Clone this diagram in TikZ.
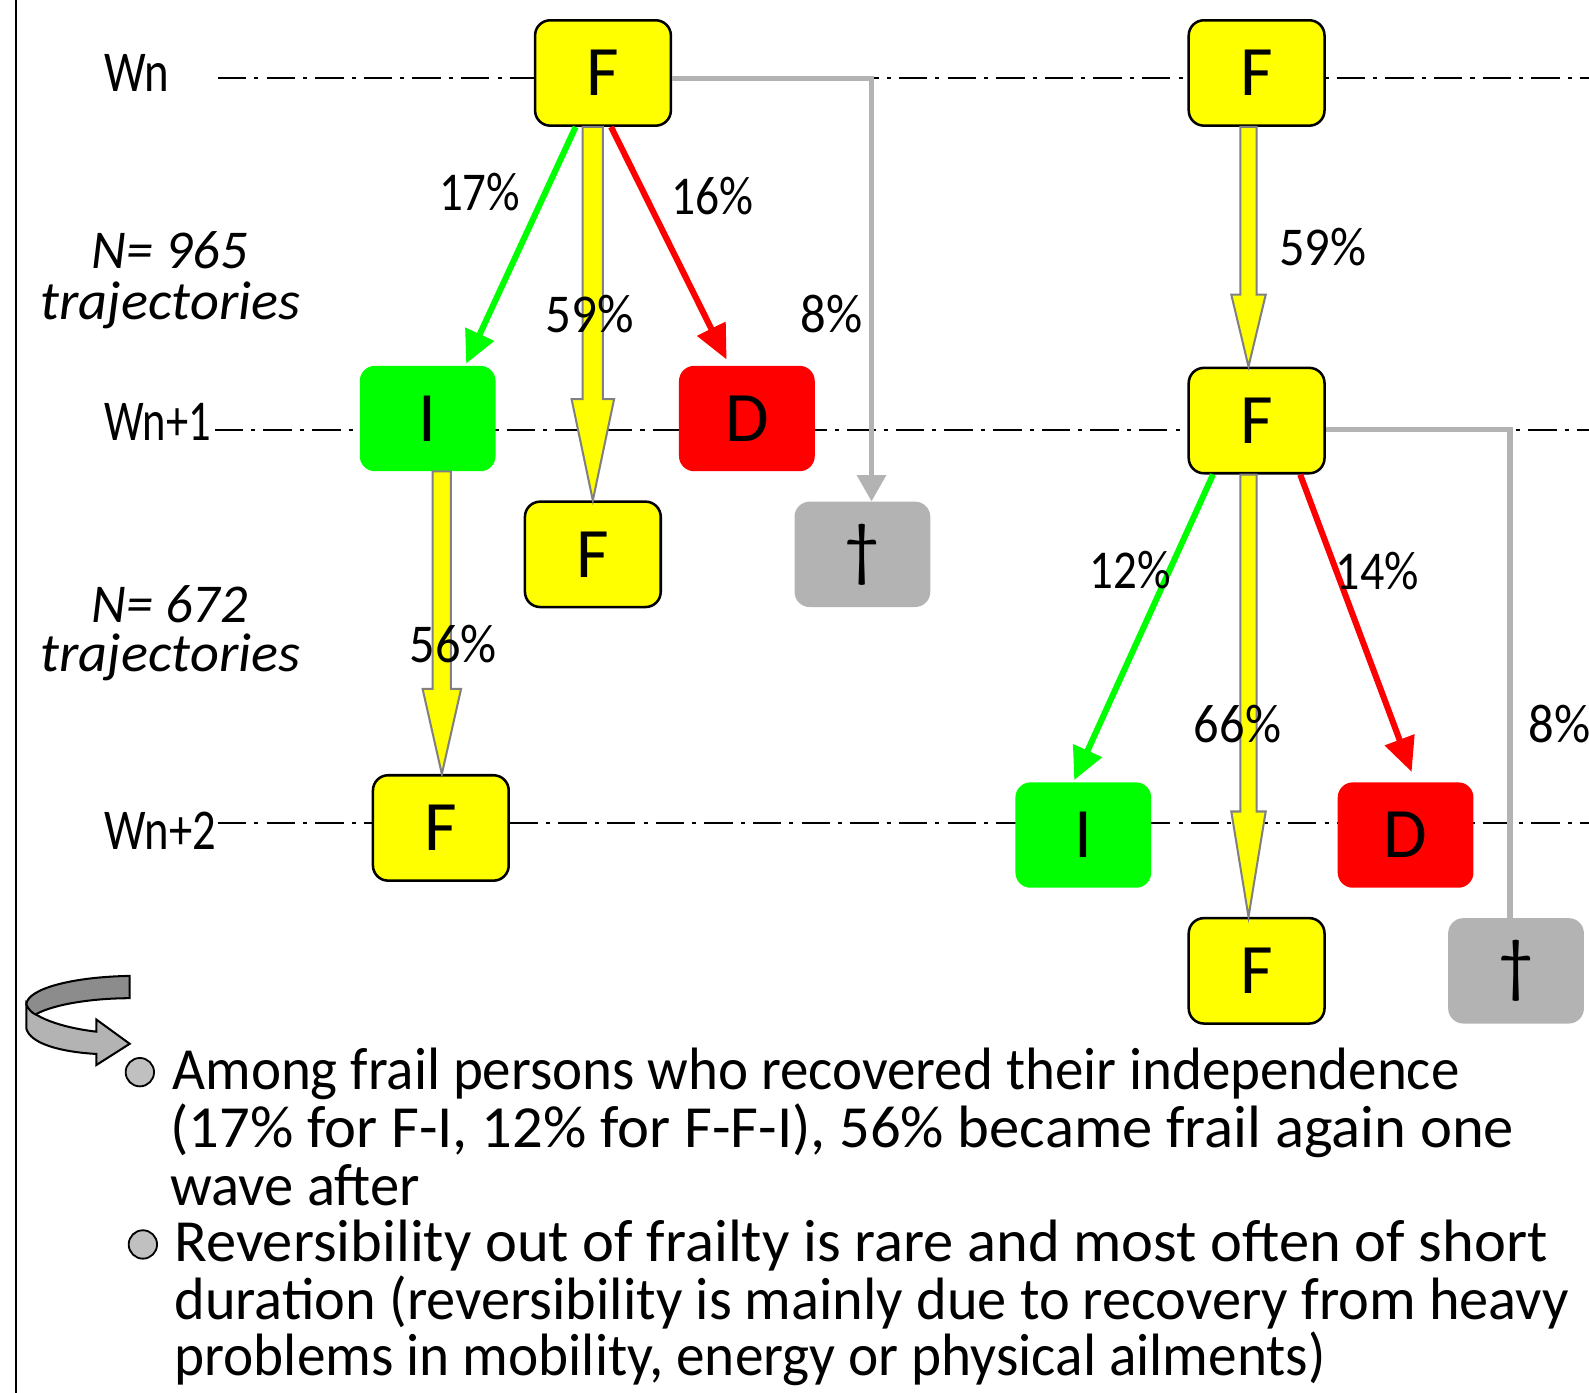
\documentclass[tikz,border=0pt]{standalone}
\usepackage{fontspec}
\usepackage{graphicx}
\setmainfont{Carlito}
\usetikzlibrary{arrows.meta,calc}
\definecolor{fyel}{RGB}{255,255,0}
\definecolor{igrn}{RGB}{0,255,0}
\definecolor{dred}{RGB}{255,0,0}
\definecolor{tgray}{RGB}{179,179,179}
\definecolor{agray}{RGB}{128,128,128}
\definecolor{darkrib}{RGB}{140,140,140}
\definecolor{bulgray}{RGB}{192,192,192}
\newcommand\fw[2]{\resizebox{#1pt}{\height}{#2}}
\newcommand\fatarrow[6]{%
  \filldraw[fat] let \p1=($(#2.north)+(#3,0)$), \p2=(#1.south) in
  (\x1-#4pt,\y2) -- (\x1-#4pt,\y1+#6pt) -- (\x1-#5pt,\y1+#6pt) -- (\x1,\y1)
  -- (\x1+#5pt,\y1+#6pt) -- (\x1+#4pt,\y1+#6pt) -- (\x1+#4pt,\y2) -- cycle;}
\tikzset{
  box/.style={rectangle, rounded corners=15pt, minimum width=134pt, minimum height=104pt,
    inner sep=0pt, font=\fontsize{70}{70}\selectfont},
  fbox/.style={box, fill=fyel, draw=black, line width=2.5pt},
  ibox/.style={box, fill=igrn},
  dbox/.style={box, fill=dred},
  tbox/.style={box, fill=tgray},
  wave/.style={line width=2.3pt, dash pattern=on 28pt off 8pt on 4pt off 8pt},
  fat/.style={fill=fyel, draw=agray, line width=2pt, line join=miter},
  grnarr/.style={draw=igrn, line width=6pt, -{Triangle[length=32pt,width=30pt]}},
  redarr/.style={draw=dred, line width=6pt, -{Triangle[length=34pt,width=30pt]}},
  grayconn/.style={draw=tgray, line width=5pt},
  lbl/.style={anchor=base west, inner sep=0pt, font=\fontsize{54}{54}\selectfont},
  wlbl/.style={anchor=base west, inner sep=0pt, font=\fontsize{57}{57}\selectfont},
  nlbl/.style={anchor=base west, inner sep=0pt, font=\fontsize{54}{54}\selectfont\itshape},
  body/.style={anchor=base west, inner sep=0pt, font=\fontsize{59}{59}\selectfont},
  bullet/.style={circle, fill=bulgray, draw=black, line width=1.8pt, minimum size=28pt, inner sep=0pt},
}
\begin{document}
\begin{tikzpicture}[x=1pt,y=-1pt]
\useasboundingbox (0,0) rectangle (1568,1374);
% left rule
\draw[line width=2.5pt] (16,-5) -- (16,1380);
% wave lines
\draw[wave] (215,77) -- (1575,77);
\draw[wave] (212,424) -- (1575,424);
\draw[wave] (215,812) -- (1575,812);
% nodes
\node[fbox] (F1) at (595,72) {F};
\node[fbox] (F2) at (1240,72) {F};
\node[ibox] (I1) at (422,413) {I};
\node[dbox] (D1) at (737,413) {D};
\node[fbox] (F3) at (585,547) {F};
\node[tbox] (T1) at (851,547) {\textdagger};
\node[fbox] (F4) at (1240,415) {F};
\node[fbox] (F5) at (435,817) {F};
\node[ibox] (I2) at (1069,824) {I};
\node[dbox] (D2) at (1387,824) {D};
\node[fbox] (F6) at (1240,958) {F};
\node[tbox] (T2) at (1496,958) {\textdagger};
% connectors
\draw[grayconn, -{Triangle[length=26pt,width=28pt]}] ($(F1.east)+(0,5)$) -| ($(T1.north)+(9,0)$);
\draw[grayconn] ($(F4.east)+(0,9)$) -| ($(T2.north)+(-6,0)$);
\fatarrow{F1}{F3}{0}{10}{21}{100}
\fatarrow{F2}{F4}{-8}{8}{17}{71}
\fatarrow{I1}{F5}{1}{9}{19}{84}
\fatarrow{F4}{F6}{-8}{8}{17}{104}
\draw[grnarr] ($(F1.south)+(-27,0)$) -- ($(I1.north)+(38,-2)$);
\draw[redarr] ($(F1.south)+(8,0)$) -- ($(D1.north)+(-20,-6)$);
\draw[grnarr] ($(F4.south)+(-43,0)$) -- ($(I2.north)+(-9,-2)$);
\draw[redarr] ($(F4.south)+(43,0)$) -- ($(D2.north)+(6,-10)$);
% row labels
\node[wlbl] (wn) at (103,90) {\fw{64}{Wn}};
\node[wlbl] (wn1) at (103,435) {\fw{105}{Wn+1}};
\node[wlbl] (wn2) at (103,838) {\fw{110}{Wn+2}};
\node[nlbl] (n1) at (90,265) {\fw{154}{N= 965}};
\node[nlbl] (t1) at (40,315) {\fw{256}{trajectories}};
\node[nlbl] (n2) at (90,614) {\fw{154}{N= 672}};
\node[nlbl] (t2) at (40,663) {\fw{256}{trajectories}};
% percentages
\node[lbl] (p17) at (433,208) {\fw{80}{17\%}};
\node[lbl] (p16) at (662,212) {\fw{81}{16\%}};
\node[lbl] (p59a) at (538,328) {\fw{87}{59\%}};
\node[lbl] (p8a) at (790,328) {\fw{61}{8\%}};
\node[lbl] (p59b) at (1262,262) {\fw{86}{59\%}};
\node[lbl] (p56) at (404,654) {\fw{86}{56\%}};
\node[lbl] (p12) at (1075,581) {\fw{80}{12\%}};
\node[lbl] (p14) at (1318,582) {\fw{82}{14\%}};
\node[lbl] (p66) at (1178,733) {\fw{86}{66\%}};
\node[lbl] (p8b) at (1508,733) {\fw{61}{8\%}};
% curved arrow icon
\begin{scope}[yshift=12pt]
\filldraw[fill=tgray, draw=black, line width=2pt, line join=miter]
  (26,1003) -- (26,1027) .. controls (30,1042) and (60,1050) .. (95,1052)
  -- (95,1063) -- (128,1042) -- (95,1018) -- (95,1030)
  .. controls (60,1026) and (30,1015) .. (26,1003) -- cycle;
\filldraw[fill=darkrib, draw=black, line width=2pt, line join=miter]
  (128,975) .. controls (70,976) and (27,988) .. (26,1003)
  .. controls (28,1008) and (31,1011) .. (35,1013)
  .. controls (55,1002) and (95,997) .. (128,997) -- cycle;
\end{scope}
% bullets
\node[bullet] (b1) at (138,1058) {};
\node[bullet] (b2) at (141,1228) {};
% body text
\node[body] (l1) at (170,1075) {\fw{1270}{Among frail persons who recovered their independence}};
\node[body] (l2) at (168,1132) {\fw{1326}{(17\% for F-I, 12\% for F-F-I), 56\% became frail again one}};
\node[body] (l3) at (168,1190) {\fw{246}{wave after}};
\node[body] (l4) at (172,1245) {\fw{1355}{Reversibility out of frailty is rare and most often of short}};
\node[body] (l5) at (172,1302) {\fw{1376}{duration (reversibility is mainly due to recovery from heavy}};
\node[body] (l6) at (172,1357) {\fw{1136}{problems in mobility, energy or physical ailments)}};
\end{tikzpicture}
\end{document}
